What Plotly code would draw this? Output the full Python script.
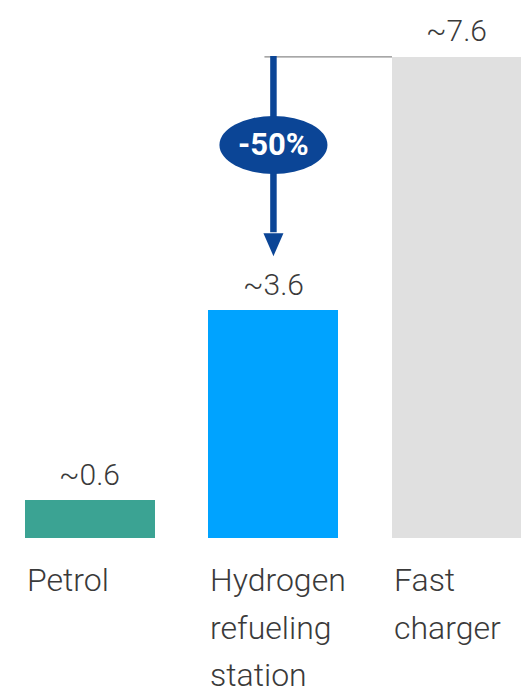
import plotly.graph_objects as go

# Cost comparison data
categories = ["Petrol", "Hydrogen refueling station", "Fast charger"]
label_lines = [["Petrol"], ["Hydrogen", "refueling", "station"], ["Fast", "charger"]]
values = [0.6, 3.6, 7.6]
value_labels = ["~0.6", "~3.6", "~7.6"]
bar_colors = ["#3ba393", "#00a3ff", "#e0e0e0"]
change_label = "-50%"

W, H = 521, 691
BOTTOM = 153
X_RANGE = [-0.49, 2.349]
Y_RANGE = [0, 8.5]
BAR_W = 0.708
NAVY = "#0b4596"
TEXT = "#3a3a3a"

plot_h = H - BOTTOM
py = (Y_RANGE[1] - Y_RANGE[0]) / plot_h          # data units per pixel (y)
px = (X_RANGE[1] - X_RANGE[0]) / W               # data units per pixel (x)

xs = list(range(len(categories)))

fig = go.Figure(go.Bar(
    x=xs, y=values, width=BAR_W,
    marker=dict(color=bar_colors, line=dict(width=0)),
    hoverinfo="skip",
))

annotations = []
# value labels above bars
for x, v, t in zip(xs, values, value_labels):
    annotations.append(dict(
        x=x, y=v, xref="x", yref="y", text=t, showarrow=False,
        xanchor="center", yanchor="middle", yshift=26,
        font=dict(family="Roboto", size=30, color=TEXT, weight=300),
    ))
# category labels under bars, left-aligned with bar edge
for x, lines in zip(xs, label_lines):
    for k, line in enumerate(lines):
        annotations.append(dict(
            x=x - BAR_W / 2, y=0, xref="x", yref="y", text=line, showarrow=False,
            xanchor="left", yanchor="middle", yshift=-42 - 47.5 * k,
            font=dict(family="Roboto", size=32, color=TEXT, weight=300),
        ))

# reduction arrow from the fast charger level down to the hydrogen bar
fast, hydro = values[2], values[1]
arrow_x = xs[1]
tip_y = hydro + 54 * py
head_base = tip_y + 23 * py
head_half = 10 * px
ell_cy = fast - 88 * py
ell_hw, ell_hh = 54 * px, 29 * py

shapes = [
    dict(type="line", xref="x", yref="y",
         x0=arrow_x - 9 * px, x1=xs[2] - BAR_W / 2, y0=fast, y1=fast,
         line=dict(color="#8a8a8a", width=1.3)),
    dict(type="line", xref="x", yref="y",
         x0=arrow_x, x1=arrow_x, y0=fast + 1 * py, y1=head_base + 1 * py,
         line=dict(color=NAVY, width=6.5)),
    dict(type="path", xref="x", yref="y",
         path=f"M {arrow_x - head_half} {head_base} L {arrow_x + head_half} {head_base} L {arrow_x} {tip_y} Z",
         fillcolor=NAVY, line=dict(width=0)),
    dict(type="circle", xref="x", yref="y",
         x0=arrow_x - ell_hw, x1=arrow_x + ell_hw,
         y0=ell_cy - ell_hh, y1=ell_cy + ell_hh,
         fillcolor=NAVY, line=dict(width=0)),
]
annotations.append(dict(
    x=arrow_x, y=ell_cy, xref="x", yref="y", text=f"<b>{change_label}</b>",
    showarrow=False, xanchor="center", yanchor="middle",
    font=dict(family="Roboto", size=31, color="white"),
))

fig.update_layout(
    width=W, height=H,
    margin=dict(l=0, r=0, t=0, b=BOTTOM),
    paper_bgcolor="white", plot_bgcolor="white",
    showlegend=False,
    xaxis=dict(range=X_RANGE, visible=False, fixedrange=True),
    yaxis=dict(range=Y_RANGE, visible=False, fixedrange=True),
    shapes=shapes, annotations=annotations,
    bargap=0,
)

fig.write_html("out.html", config={"displayModeBar": False})
